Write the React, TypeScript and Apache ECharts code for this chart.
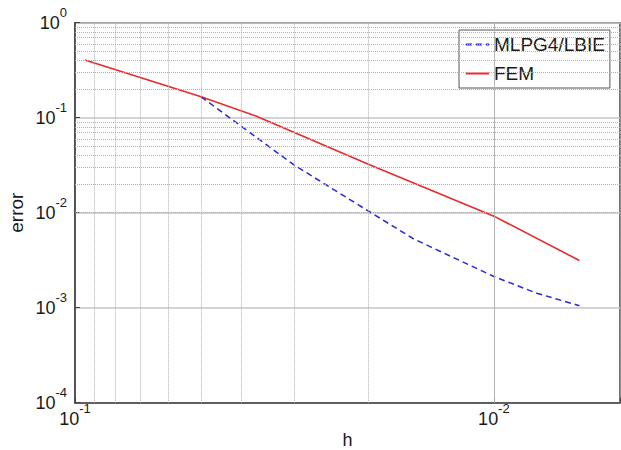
import React, { useEffect, useRef } from 'react';
import * as echarts from 'echarts';

const hFem = [0.0947, 0.05, 0.037, 0.02, 0.01, 0.00625];
const errFem = [0.405, 0.166, 0.104, 0.0326, 0.0092, 0.00314];
const hMlpg = [0.05, 0.03, 0.02, 0.0156, 0.0142, 0.01, 0.0079, 0.00625];
const errMlpg = [0.166, 0.0318, 0.0105, 0.00535, 0.00439, 0.00213, 0.00142, 0.00105];
const xMinor = [0.09, 0.08, 0.07, 0.06, 0.05, 0.04, 0.03, 0.02, 0.009, 0.008, 0.007, 0.006];
const yMinor = [
  0.9, 0.8, 0.7, 0.6, 0.5, 0.4, 0.3, 0.2,
  0.09, 0.08, 0.07, 0.06, 0.05, 0.04, 0.03, 0.02,
  0.009, 0.008, 0.007, 0.006, 0.005, 0.004, 0.003, 0.002,
  0.0009, 0.0008, 0.0007, 0.0006, 0.0005, 0.0004, 0.0003, 0.0002,
];

const FONT = 'Liberation Sans, Arial, sans-serif';

function powLabel(v: number): string {
  const e = Math.log10(v);
  const r = Math.round(e);
  if (Math.abs(e - r) > 1e-6) return '';
  return '{b|10}{s|' + r + '}';
}

const rich = {
  b: { fontSize: 18, fontFamily: FONT, color: '#1a1a1a', lineHeight: 18, verticalAlign: 'bottom' },
  s: { fontSize: 13, fontFamily: FONT, color: '#1a1a1a', lineHeight: 13, padding: [0, 0, 13, 0], verticalAlign: 'bottom' },
};

export default function App() {
  const ref = useRef<HTMLDivElement>(null);
  useEffect(() => {
    if (!ref.current) return;
    const chart = echarts.init(ref.current, undefined, { renderer: 'svg' });
    const fem = hFem.map((h, i) => [h, errFem[i]]);
    const mlpg = hMlpg.map((h, i) => [h, errMlpg[i]]);
    const gridMarks = [
      ...xMinor.map((v) => ({ xAxis: v })),
      ...yMinor.map((v) => ({ yAxis: v })),
    ];
    chart.setOption({
      animation: false,
      backgroundColor: '#ffffff',
      grid: {
        left: 75, right: 1, top: 22.7, bottom: 47.3,
        outerBoundsMode: 'none', containLabel: false,
        show: true, borderColor: '#444', borderWidth: 1.5, backgroundColor: 'transparent',
      },
      legend: {
        orient: 'vertical',
        left: 459, top: 30,
        width: 150,
        backgroundColor: '#fff',
        borderColor: '#555', borderWidth: 1,
        padding: [5, 5, 5, 6],
        itemWidth: 23, itemHeight: 14, itemGap: 10, itemTextGap: 3,
        itemStyle: { opacity: 0 },
        textStyle: { fontSize: 19, fontFamily: FONT, color: '#1a1a1a' },
        data: ['MLPG4/LBIE', 'FEM'],
      },
      xAxis: {
        type: 'log', logBase: 10, min: 0.005, max: 0.1, inverse: true,
        name: 'h', nameLocation: 'middle', nameGap: 28, nameMoveOverlap: false,
        nameTextStyle: { fontSize: 18, lineHeight: 18, fontFamily: FONT, color: '#1a1a1a' },
        axisLine: { show: true, lineStyle: { color: '#444', width: 1.5 } },
        axisTick: { show: true, inside: true, length: 5, lineStyle: { color: '#444' } },
        axisLabel: { formatter: powLabel, rich, margin: 7, showMinLabel: true, showMaxLabel: true },
        splitLine: { show: true, lineStyle: { color: '#b0b0b0', type: 'dotted', width: 1 } },
      },
      yAxis: {
        type: 'log', logBase: 10, min: 0.0001, max: 1,
        name: 'error', nameLocation: 'middle', nameGap: 49, nameMoveOverlap: false,
        nameTextStyle: { fontSize: 19, fontFamily: FONT, color: '#1a1a1a' },
        axisLine: { show: true, lineStyle: { color: '#444', width: 1.5 } },
        axisTick: { show: true, inside: true, length: 5, lineStyle: { color: '#444' } },
        axisLabel: { formatter: powLabel, rich, margin: 8 },
        splitLine: { show: true, lineStyle: { color: '#c4c4c4', type: 'solid', width: 1.5 } },
      },
      series: [
        {
          name: 'MLPG4/LBIE', type: 'line', data: mlpg, symbol: 'none', z: 4,
          lineStyle: { color: '#2727dc', width: 1.5, type: [6, 4] },
          itemStyle: { color: '#2727dc' },
        },
        {
          name: 'FEM', type: 'line', data: fem, symbol: 'none', z: 3,
          lineStyle: { color: '#ea2a2a', width: 1.6, type: 'solid' },
          itemStyle: { color: '#ea2a2a' },
          markLine: {
            silent: true, symbol: 'none', animation: false,
            label: { show: false },
            lineStyle: { color: '#b0b0b0', type: 'dotted', width: 1 },
            emphasis: { disabled: true },
            data: gridMarks,
          },
        },
      ],
    });
    return () => chart.dispose();
  }, []);
  return <div ref={ref} style={{ position: 'absolute', left: 0, top: 0, width: 621, height: 450 }} />;
}
